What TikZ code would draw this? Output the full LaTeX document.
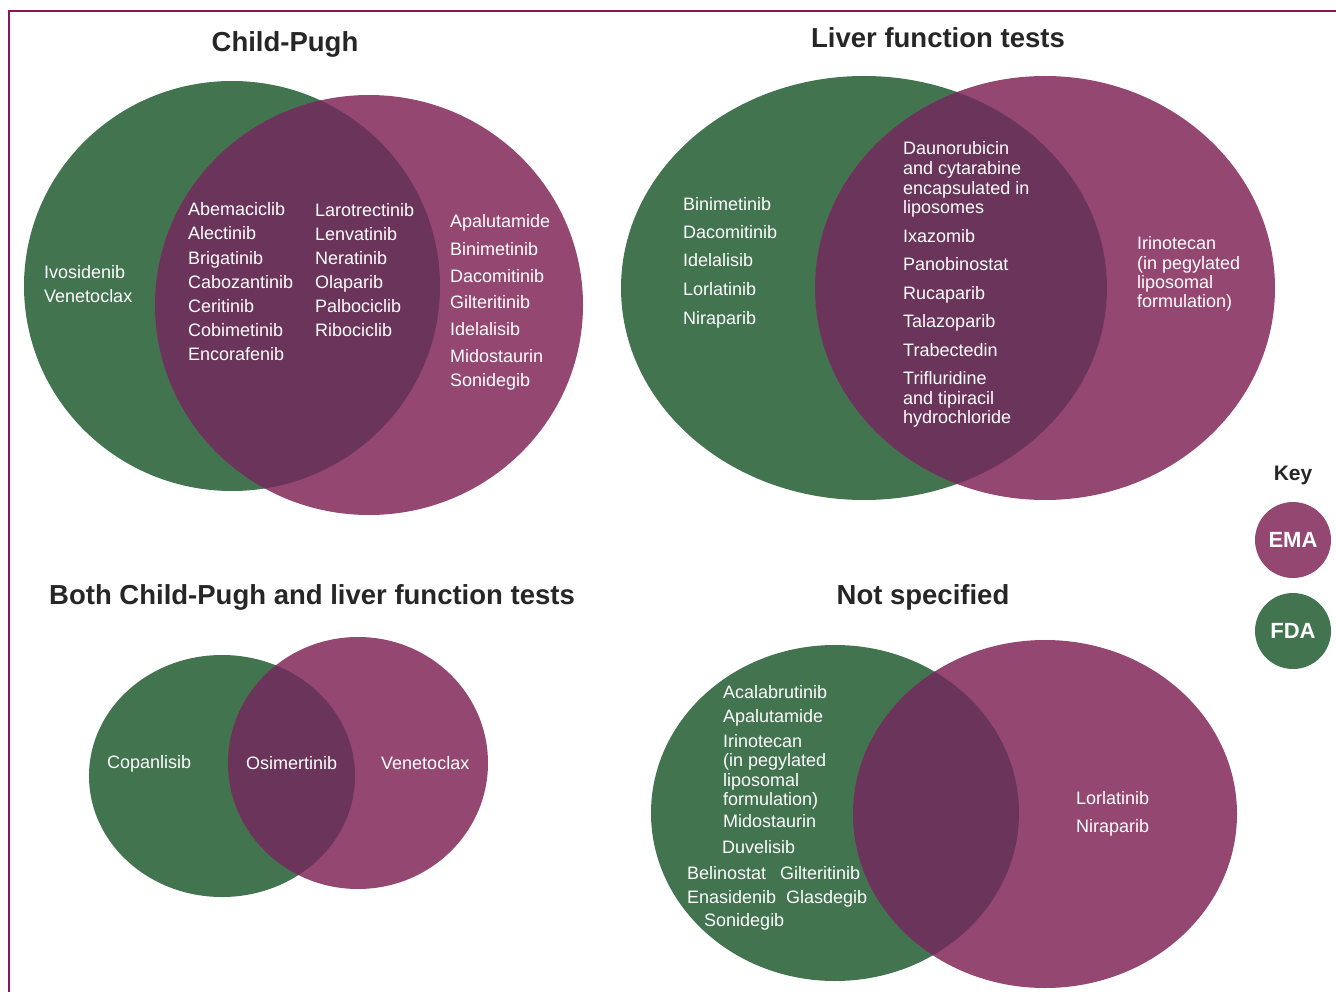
\documentclass[tikz,border=0pt]{standalone}
\usepackage{fontspec}
\setmainfont{Liberation Sans}

\definecolor{fdagreen}{RGB}{66,116,80}
\definecolor{emapurple}{RGB}{148,71,112}
\definecolor{bothpurple}{RGB}{107,52,90}
\definecolor{framepurple}{RGB}{136,22,92}

\newcommand\drugfont{\fontsize{18}{20}\selectfont}
\newcommand\headfont{\fontsize{27.5}{32}\selectfont\bfseries}

% green ellipse (FDA), purple ellipse (EMA), overlap in the darker shade
\newcommand\vennpair[8]{%
  \fill[fdagreen] (#1,#2) ellipse [x radius=#3, y radius=#4];
  \fill[emapurple] (#5,#6) ellipse [x radius=#7, y radius=#8];
  \begin{scope}
    \clip (#1,#2) ellipse [x radius=#3, y radius=#4];
    \fill[bothpurple] (#5,#6) ellipse [x radius=#7, y radius=#8];
  \end{scope}}

\begin{document}
\begin{tikzpicture}[x=1pt, y=-1pt,
    drug/.style={anchor=base west, inner sep=0pt, text=white, font=\drugfont},
    heading/.style={anchor=base, inner sep=0pt, text=black!85, font=\headfont},
    keydot/.style={circle, minimum size=76pt, inner sep=0pt, text=white,
      font=\fontsize{22}{26}\selectfont\bfseries}]
  \useasboundingbox (0,0) rectangle (1336,992);

  % frame
  \draw[framepurple, line width=2.5pt] (1336,11) -- (9,11) -- (9,992);

  % Child-Pugh
  \node[heading] (cp-title) at (285,52) {Child-Pugh};
  \vennpair{232}{286}{208}{205}{369}{305}{214}{210}
  \foreach \y/\name [count=\i] in {272/Ivosidenib, 296/Venetoclax}
    \node[drug] (cp-fda-\i) at (44,\y+6.5) {\name};
  \foreach \y/\name [count=\i] in {209/Abemaciclib, 233/Alectinib, 258/Brigatinib,
      282/Cabozantinib, 306/Ceritinib, 330/Cobimetinib, 354/Encorafenib}
    \node[drug] (cp-both-a\i) at (188,\y+6.5) {\name};
  \foreach \y/\name [count=\i] in {210/Larotrectinib, 234/Lenvatinib, 258/Neratinib,
      282/Olaparib, 306/Palbociclib, 330/Ribociclib}
    \node[drug] (cp-both-b\i) at (315,\y+6.5) {\name};
  \foreach \y/\name [count=\i] in {221/Apalutamide, 249/Binimetinib, 276/Dacomitinib,
      302/Gilteritinib, 329/Idelalisib, 356/Midostaurin, 380/Sonidegib}
    \node[drug] (cp-ema-\i) at (450,\y+6.5) {\name};

  % Liver function tests
  \node[heading] (lft-title) at (938,47.5) {Liver function tests};
  \vennpair{864}{288}{243}{212}{1045}{288}{230}{212}
  \foreach \y/\name [count=\i] in {204/Binimetinib, 232/Dacomitinib, 260/Idelalisib,
      289/Lorlatinib, 318/Niraparib}
    \node[drug] (lft-fda-\i) at (683,\y+6.5) {\name};
  \foreach \y/\name [count=\i] in {148/Daunorubicin, 168/and cytarabine,
      188/encapsulated in, 207/liposomes, 236/Ixazomib, 264/Panobinostat,
      293/Rucaparib, 321/Talazoparib, 350/Trabectedin, 378/Trifluridine,
      398/and tipiracil, 417/hydrochloride}
    \node[drug] (lft-both-\i) at (903,\y+6.5) {\name};
  \foreach \y/\name [count=\i] in {243/Irinotecan, 263/(in pegylated,
      282/liposomal, 301/formulation)}
    \node[drug] (lft-ema-\i) at (1137,\y+6.5) {\name};

  % Both Child-Pugh and liver function tests
  \node[heading] (cl-title) at (312,604) {Both Child-Pugh and liver function tests};
  \vennpair{222}{776}{133}{121}{358}{763}{130}{126}
  \node[drug] (cl-fda) at (107,768.5) {Copanlisib};
  \node[drug] (cl-both) at (246,769.5) {Osimertinib};
  \node[drug] (cl-ema) at (381,769.5) {Venetoclax};

  % Not specified
  \node[heading] (ns-title) at (923,604) {Not specified};
  \vennpair{835}{813}{184}{168}{1045}{814}{192}{174}
  \foreach \y/\name [count=\i] in {692/Acalabrutinib, 716/Apalutamide,
      741/Irinotecan, 760/(in pegylated, 780/liposomal, 799/formulation),
      821/Midostaurin}
    \node[drug] (ns-fda-\i) at (723,\y+6.5) {\name};
  \node[drug] (ns-duv) at (722,853.5) {Duvelisib};
  \node[drug] (ns-bel) at (687,879.5) {Belinostat};
  \node[drug] (ns-gil) at (780,879.5) {Gilteritinib};
  \node[drug] (ns-ena) at (687,903.5) {Enasidenib};
  \node[drug] (ns-gla) at (786,903.5) {Glasdegib};
  \node[drug] (ns-son) at (704,926.5) {Sonidegib};
  \foreach \y/\name [count=\i] in {798/Lorlatinib, 826/Niraparib}
    \node[drug] (ns-ema-\i) at (1076,\y+6.5) {\name};

  % Key
  \node[anchor=base, inner sep=0pt, text=black!85,
    font=\fontsize{21}{25}\selectfont\bfseries] (key) at (1293,480.5) {Key};
  \node[keydot, fill=emapurple] (ema) at (1293,540) {EMA};
  \node[keydot, fill=fdagreen] (fda) at (1293,631) {FDA};
\end{tikzpicture}
\end{document}
